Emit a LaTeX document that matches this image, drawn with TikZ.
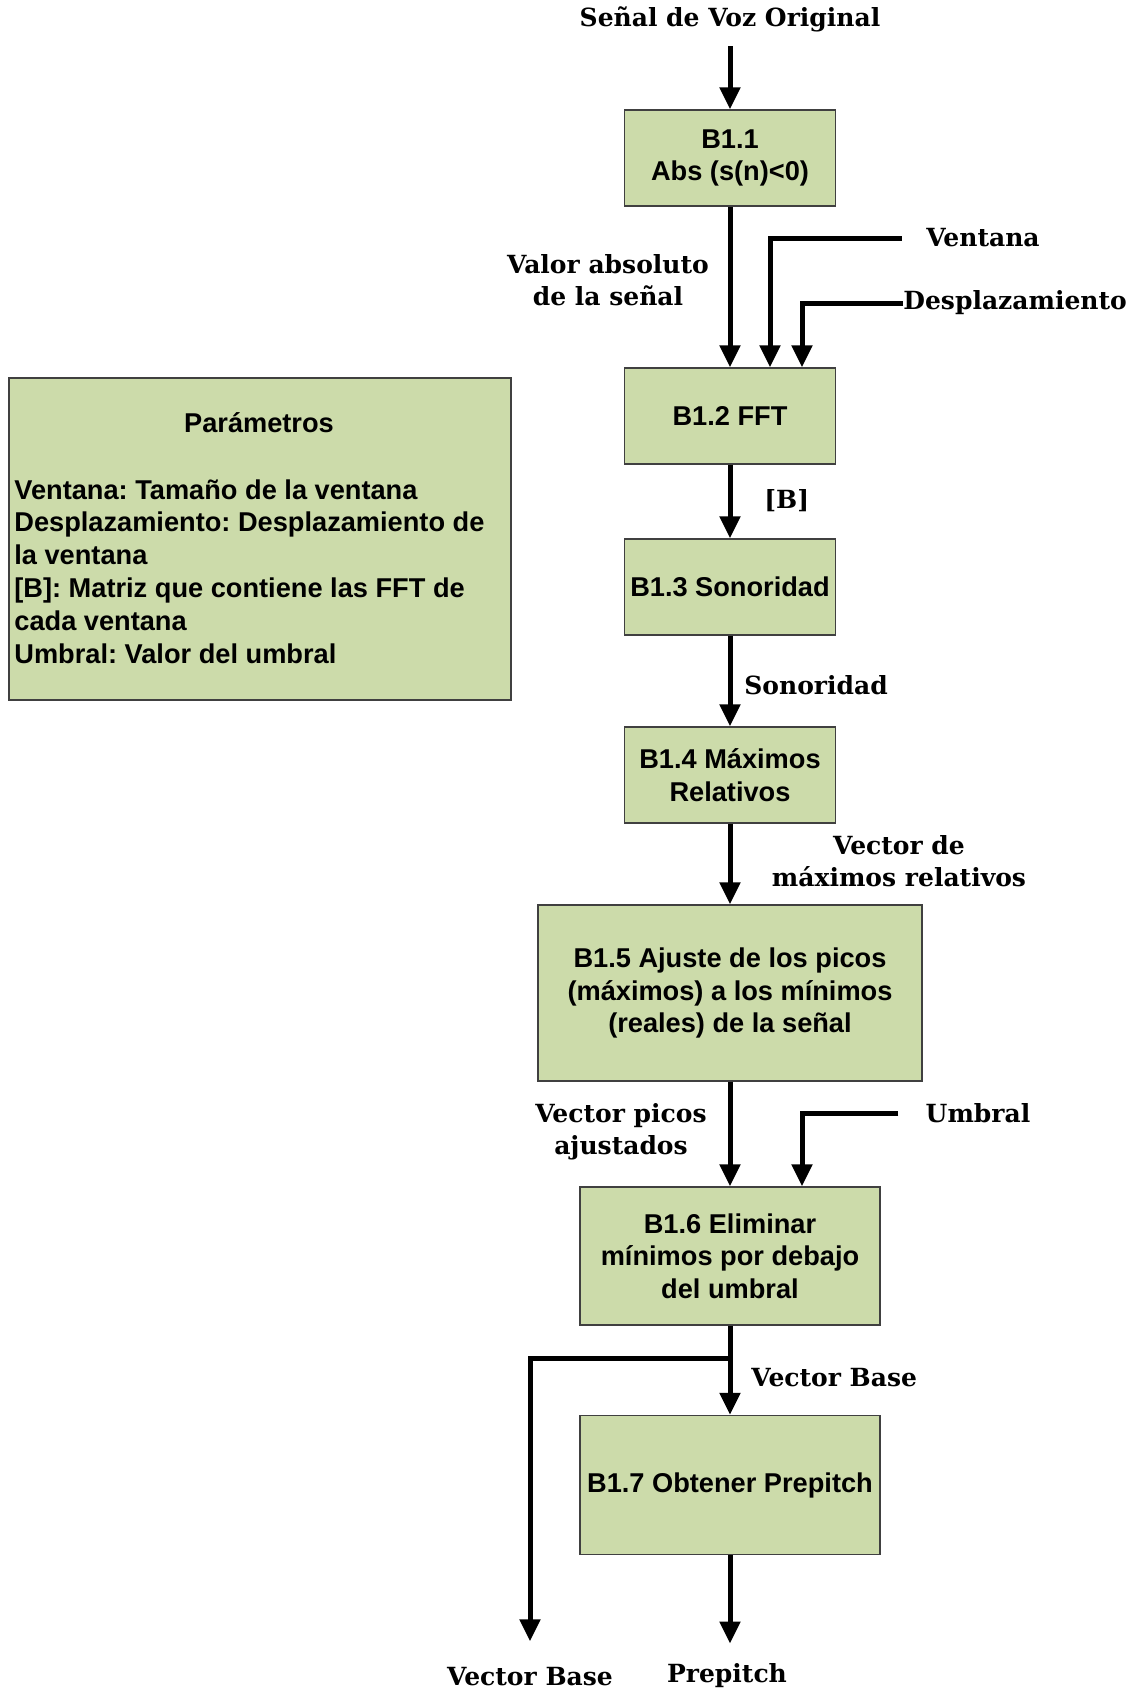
\documentclass[tikz,border=0pt]{standalone}
\usepackage{fontspec}
\setmainfont{DejaVu Serif}
\newfontfamily\arialfont{Liberation Sans}
\usetikzlibrary{arrows.meta}
\definecolor{boxgreen}{RGB}{204,219,170}
\tikzset{
  block/.style={draw=black!75, line width=0.6pt, fill=boxgreen, align=center,
    font=\arialfont\bfseries\fontsize{13.6}{16.3}\selectfont, inner sep=2pt},
  lbl/.style={font=\bfseries\fontsize{12.5}{16.2}\selectfont, align=center, inner sep=3pt},
  flow/.style={line width=2.5pt, -{Triangle[width=10pt,length=11pt]}},
}
\frenchspacing
\begin{document}
\begin{tikzpicture}[x=0.5pt,y=-0.5pt]
\useasboundingbox (0,0) rectangle (1139,1693);
% processing chain
\node[block, minimum width=105.5pt, minimum height=48pt] (b11) at (730,158) {B1.1\\Abs (s(n)<0)};
\node[block, minimum width=105.5pt, minimum height=48pt] (b12) at (730,416) {B1.2 FFT};
\node[block, minimum width=105.5pt, minimum height=48pt] (b13) at (730,587) {B1.3 Sonoridad};
\node[block, minimum width=105.5pt, minimum height=48pt] (b14) at (730,775) {B1.4 Máximos\\Relativos};
\node[block, minimum width=192pt, minimum height=88pt] (b15) at (730,993) {B1.5 Ajuste de los picos\\(máximos) a los mínimos\\(reales) de la señal};
\node[block, minimum width=150pt, minimum height=69pt] (b16) at (730,1256) {B1.6 Eliminar\\mínimos por debajo\\del umbral};
\node[block, minimum width=150pt, minimum height=69.5pt] (b17) at (730,1485) {B1.7 Obtener Prepitch};
% parameter box
\node[block, minimum width=251pt, minimum height=161pt] (param) at (260,539) {};
\node[font=\arialfont\bfseries\fontsize{13.6}{16.4}\selectfont] (paramtitle) at (259,423) {Parámetros};
\node[font=\arialfont\bfseries\fontsize{13.6}{16.4}\selectfont, align=left, anchor=north west, inner sep=0pt] (paramtext) at (14,479)
  {Ventana: Tamaño de la ventana\\Desplazamiento: Desplazamiento de\\la ventana\\{[B]}: Matriz que contiene las FFT de\\cada ventana\\Umbral: Valor del umbral};
% signal labels
\node[lbl] (input) at (730,19) {Señal de Voz Original};
\node[lbl] (ventana) at (983,238) {Ventana};
\node[lbl, anchor=west] (desp) at (897,303) {Desplazamiento};
\node[lbl] (absval) at (608,280) {Valor absoluto\\de la señal};
\node[lbl, anchor=west] (bmat) at (758,501) {[B]};
\node[lbl, anchor=west] (sonor) at (738,685) {Sonoridad};
\node[lbl] (maxrel) at (899,861) {Vector de\\máximos relativos};
\node[lbl] (picos) at (621,1132) {Vector picos\\ajustados};
\node[lbl] (umbral) at (978,1113) {Umbral};
\node[lbl, anchor=west] (vbase) at (745,1378) {Vector Base};
\node[lbl] (vbaseout) at (530,1677) {Vector Base};
\node[lbl] (prepitch) at (727,1676) {Prepitch};
\coordinate (split) at (730,1358);
% connectors
\draw[flow, shorten <=4pt] (input) -- (b11);
\draw[flow] (b11) -- (b12);
\draw[flow, shorten <=9pt] (ventana.west) -| ([xshift=20pt]b12.north);
\draw[flow, shorten <=-3pt] (desp.west) -| ([xshift=36pt]b12.north);
\draw[flow] (b12) -- (b13);
\draw[flow] (b13) -- (b14);
\draw[flow] (b14) -- (b15);
\draw[flow] (b15) -- (b16);
\draw[flow, shorten <=10.5pt] (umbral.west) -| ([xshift=36pt]b16.north);
\draw[flow] (b16) -- (b17);
\draw[flow, shorten >=10pt] (split) -| (vbaseout.north);
\draw[flow, shorten >=7pt] (b17.south) -- (b17.south |- prepitch.north);
\end{tikzpicture}
\end{document}
